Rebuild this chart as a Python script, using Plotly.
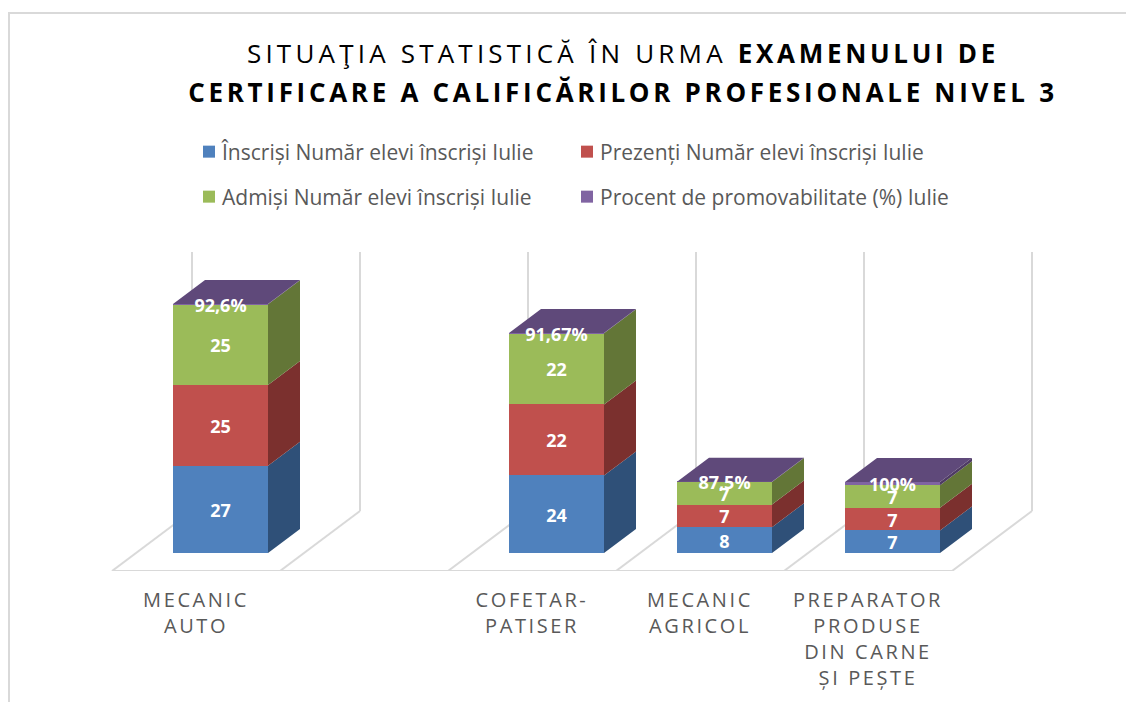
import plotly.graph_objects as go

# ---- data ----
categories = ["MECANIC<br>AUTO", " ", "COFETAR-<br>PATISER", "MECANIC<br>AGRICOL",
              "PREPARATOR<br>PRODUSE<br>DIN CARNE<br>ȘI PEȘTE"]
inscrisi = [27, None, 24, 8, 7]
prezenti = [25, None, 22, 7, 7]
admisi = [25, None, 22, 7, 7]
procent = [0.09, None, 0.09, 0.09, 1.0]
procent_labels = ["92,6%", "", "91,67%", "87,5%", "100%"]

series_names = ["Înscriși Număr elevi înscriși Iulie", "Prezenți Număr elevi înscriși Iulie",
                "Admiși Număr elevi înscriși Iulie", "Procent de promovabilitate (%) Iulie"]
front_colors = ["#4F81BD", "#C0504D", "#9BBB59", "#8064A2"]
side_colors = ["#2F5078", "#7B302E", "#637637", "#4E3B63"]
top_color = "#5F497A"
wall_color = "#D9D9D9"
label_font = "Open Sans"

# ---- pseudo-3D geometry, in axis units ----
W, H = 1126, 702
unit_x = 168
unit_y = 3.23
floor_px = 571
base_px = 553
left_tick_px = 196

floor_y = -(floor_px - base_px) / unit_y
y_top = base_px / unit_y
x_lo = -left_tick_px / unit_x
x_hi = (W - left_tick_px) / unit_x

bar_shift = 24.5 / unit_x
bar_width = 95 / unit_x
depth_dx = 32 / unit_x
depth_dy = 24 / unit_y
wall_dx = 80 / unit_x
wall_dy = 60 / unit_y
wall_top = 93.2
label_drop = 3 / unit_y

all_series = [inscrisi, prezenti, admisi, procent]
n = len(categories)
idx = list(range(n))
bar_x = [i + bar_shift for i in idx]

fig = go.Figure()

# front faces
for s, vals in enumerate(all_series):
    fig.add_trace(go.Bar(x=bar_x, y=vals, width=bar_width, name=series_names[s],
                         marker=dict(color=front_colors[s], line=dict(width=0)),
                         legend="legend" if s < 2 else "legend2", hoverinfo="skip"))

# side faces and caps
stack_mid = {s: [None] * n for s in range(4)}
tops = [None] * n
for s, vals in enumerate(all_series):
    xs, ys = [], []
    for i in idx:
        if vals[i] is None:
            continue
        lo = sum(all_series[k][i] for k in range(s))
        hi = lo + vals[i]
        stack_mid[s][i] = (lo + hi) / 2 - label_drop
        tops[i] = hi
        xr = bar_x[i] + bar_width / 2
        xs += [xr, xr + depth_dx, xr + depth_dx, xr, xr, None]
        ys += [lo, lo + depth_dy, hi + depth_dy, hi, lo, None]
    fig.add_trace(go.Scatter(x=xs, y=ys, mode="none", fill="toself", fillcolor=side_colors[s],
                             showlegend=False, hoverinfo="skip"))

xs, ys = [], []
for i in idx:
    if tops[i] is None:
        continue
    xl = bar_x[i] - bar_width / 2
    xr = bar_x[i] + bar_width / 2
    xs += [xl, xr, xr + depth_dx, xl + depth_dx, xl, None]
    ys += [tops[i], tops[i], tops[i] + depth_dy, tops[i] + depth_dy, tops[i], None]
fig.add_trace(go.Scatter(x=xs, y=ys, mode="none", fill="toself", fillcolor=top_color,
                         showlegend=False, hoverinfo="skip"))

# data labels
for s, vals in enumerate(all_series):
    if s < 3:
        txt = [str(v) if v is not None else "" for v in vals]
    else:
        txt = procent_labels
    fig.add_trace(go.Scatter(x=bar_x, y=stack_mid[s], mode="text", text=txt,
                             textposition="middle center",
                             textfont=dict(family=label_font, size=18, color="white", weight="bold"),
                             showlegend=False, hoverinfo="skip"))

# floor and walls, behind everything
shapes = []
line = dict(color=wall_color, width=2)
shapes.append(dict(type="line", xref="x", yref="y", layer="below", line=line,
                   x0=-0.5, x1=n - 0.5, y0=floor_y, y1=floor_y))
for k in range(n + 1):
    xf = k - 0.5
    shapes.append(dict(type="line", xref="x", yref="y", layer="below", line=line,
                       x0=xf, x1=xf + wall_dx, y0=floor_y, y1=floor_y + wall_dy))
    shapes.append(dict(type="line", xref="x", yref="y", layer="below", line=line,
                       x0=xf + wall_dx, x1=xf + wall_dx, y0=floor_y + wall_dy, y1=wall_top))

# outer frame (cropped at the right and bottom of the picture)
plot_h = floor_px
shapes.append(dict(type="line", xref="paper", yref="paper", layer="below", line=line,
                   x0=8 / W, x1=1, y0=1 - 13 / plot_h, y1=1 - 13 / plot_h))
shapes.append(dict(type="line", xref="paper", yref="paper", layer="below", line=line,
                   x0=9 / W, x1=9 / W, y0=1 - 13 / plot_h, y1=1 - H / plot_h))

legend_common = dict(orientation="h", xanchor="left", yanchor="middle", traceorder="normal",
                     entrywidth=333, entrywidthmode="pixels", bgcolor="rgba(0,0,0,0)",
                     font=dict(family=label_font, size=21, color="#595959"))

fig.update_layout(
    width=W, height=H,
    margin=dict(l=0, r=0, t=0, b=H - floor_px, autoexpand=False),
    barmode="stack", bargap=0,
    paper_bgcolor="white", plot_bgcolor="rgba(0,0,0,0)",
    title=dict(
        text="SITUAŢIA STATISTICĂ ÎN URMA <b>EXAMENULUI DE</b><br><b>CERTIFICARE A CALIFICĂRILOR PROFESIONALE NIVEL 3</b>",
        x=623 / W, xanchor="center", xref="container",
        y=1 - 63 / H, yanchor="top", yref="container",
        font=dict(family=label_font, size=26, color="#000000")),
    xaxis=dict(range=[x_lo, x_hi], tickmode="array", tickvals=idx, ticktext=categories,
               showgrid=False, zeroline=False, showline=False, ticks="outside", ticklen=11,
               tickcolor="rgba(0,0,0,0)", tickangle=0,
               tickfont=dict(family=label_font, size=20, color="#595959"), automargin=False),
    yaxis=dict(range=[floor_y, y_top], visible=False, showgrid=False, zeroline=False),
    showlegend=True,
    legend=dict(x=189 / W, y=1 - 152 / plot_h, **legend_common),
    legend2=dict(x=189 / W, y=1 - 197 / plot_h, **legend_common),
    shapes=shapes,
)

post = """
document.body.style.margin='0';
document.body.style.overflow='hidden';
var gd=document.getElementById('{plot_id}');
function polish(){
  gd.querySelectorAll('.xtick text').forEach(function(t){t.style.letterSpacing='2.6px';});
  gd.querySelectorAll('.legendtext, .legend2text').forEach(function(t){t.setAttribute('x','33');});
  gd.querySelectorAll('.legend .scrollbox, .legend2 .scrollbox').forEach(function(t){t.removeAttribute('clip-path');});
  gd.querySelectorAll('.gtitle').forEach(function(t){
    t.style.letterSpacing='3.7px';
    var ls=t.querySelectorAll('tspan.line');
    if(ls.length>1){
      ls[0].style.letterSpacing='4.2px';
      ls[0].querySelectorAll('tspan').forEach(function(b){b.style.letterSpacing='3.7px';});
      ls[1].setAttribute('dy','39');
    }
  });
}
polish();
if(gd.on){gd.on('plotly_afterplot',polish);}
[50,200,500,1000].forEach(function(ms){setTimeout(polish,ms);});
"""
fig.write_html("out.html", post_script=post, config={"displayModeBar": False})
